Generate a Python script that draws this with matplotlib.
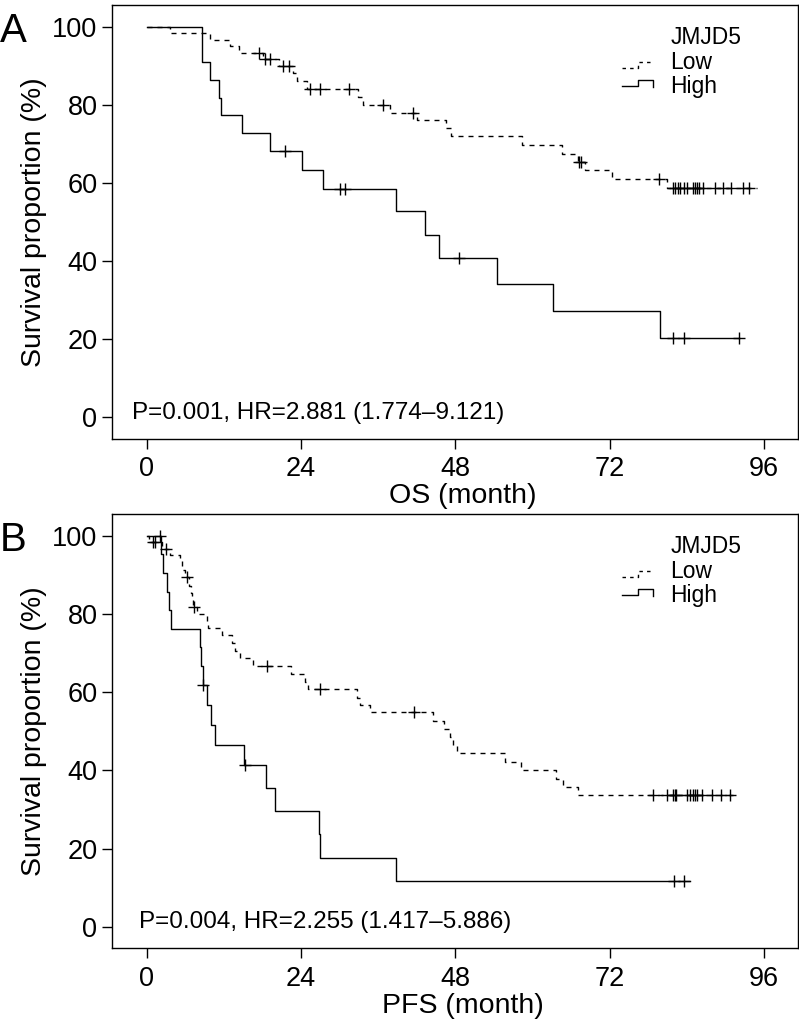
"""
Kaplan-Meier curves, JMJD5 low vs high (OS / PFS)
"""
import numpy as np
import matplotlib
matplotlib.use("Agg")
import matplotlib.pyplot as plt

plt.rcParams["font.family"] = ["Liberation Sans", "DejaVu Sans"]

# ---- OS (panel A) ----
os_low_t = [3.6, 9.9, 12.9, 14.3, 18.1, 20.5, 22.8, 23.4, 25.0, 32.9, 33.7,
            37.8, 42.0, 46.6, 47.4, 58.3, 64.6, 67.1, 68.2, 72.3, 80.9]
os_low_s = [98.3, 96.6, 94.9, 93.2, 91.6, 89.9, 88.0, 86.1, 84.1, 82.0, 80.0,
            78.0, 76.0, 74.0, 71.9, 69.7, 67.5, 65.4, 63.2, 61.0, 58.6]
os_low_cens = [17.5, 18.4, 19.2, 21.2, 22.1, 25.4, 26.9, 31.5, 36.8, 41.4,
               67.2, 67.6, 79.7, 81.8, 82.2, 82.6, 83.0, 83.5, 84.1, 85.0,
               85.3, 85.6, 85.9, 86.5, 88.4, 89.6, 90.8, 92.8, 93.7]
os_low_end = 94.9

os_high_t = [8.6, 9.9, 11.3, 11.6, 14.8, 19.1, 24.1, 27.4, 38.8, 43.3, 45.4,
             54.5, 63.2, 79.8]
os_high_s = [90.9, 86.4, 81.8, 77.3, 72.7, 68.2, 63.3, 58.4, 52.7, 46.7, 40.9,
             34.1, 27.3, 20.3]
os_high_cens = [21.5, 30.0, 30.8, 48.5, 81.9, 83.6, 92.1]
os_high_end = 92.1

# ---- PFS (panel B) ----
pfs_low_t = [0.4, 2.3, 3.6, 5.2, 5.5, 5.9, 6.6, 6.9, 7.1, 7.2, 7.8, 9.4, 9.6,
             11.7, 13.2, 13.7, 14.5, 16.6, 22.5, 24.6, 25.1, 32.7, 33.2, 34.7,
             44.6, 46.3, 47.1, 47.6, 48.2, 55.7, 58.2, 63.7, 64.7, 67.1]
pfs_low_s = [98.3, 96.6, 95.0, 93.4, 91.2, 89.3, 87.2, 85.3, 83.5, 81.7, 80.0,
             78.2, 76.3, 74.5, 72.5, 70.6, 68.6, 66.7, 64.6, 62.7, 60.8, 58.5,
             56.6, 54.8, 52.7, 50.5, 48.4, 46.4, 44.3, 42.2, 40.1, 37.9, 35.8,
             33.7]
pfs_low_cens = [1.0, 1.3, 3.0, 6.2, 7.3, 18.7, 26.95, 41.5, 78.8, 80.9, 81.9,
                82.1, 82.3, 84.0, 84.5, 84.9, 85.3, 85.6, 86.3, 87.9, 89.3,
                90.7]
pfs_low_end = 91.7

pfs_high_t = [2.2, 2.5, 3.1, 3.4, 3.8, 8.3, 8.5, 8.7, 9.4, 10.0, 10.6, 15.1,
              18.6, 20.0, 26.8, 27.0, 38.8]
pfs_high_s = [95.2, 90.5, 85.7, 81.0, 76.2, 71.4, 66.7, 61.9, 56.7, 51.6, 46.4,
              41.3, 35.4, 29.5, 23.6, 17.7, 11.8]
pfs_high_cens = [2.0, 8.8, 15.3, 82.0, 83.6]
pfs_high_end = 84.5

x_ticks = [0, 24, 48, 72, 96]
y_ticks = [0, 20, 40, 60, 80, 100]

DASH = (0, (3.6, 3.6))


def km(ax, t, s, cens, end, ls):
    tt = np.r_[0, t, end]
    ss = np.r_[100, s, s[-1]]
    ax.step(tt, ss, where="post", color="black", lw=1.0, linestyle=ls)
    idx = np.searchsorted(tt, cens, side="right") - 1
    ax.plot(cens, ss[idx], linestyle="none", marker="+", ms=8, mew=1.0,
            color="black")


def legend(ax):
    # text part
    ax.text(0.814, 0.911, "JMJD5", transform=ax.transAxes, fontsize=16.5,
            va="baseline")
    ax.text(0.814, 0.853, "Low", transform=ax.transAxes, fontsize=16.5,
            va="baseline")
    ax.text(0.814, 0.797, "High", transform=ax.transAxes, fontsize=16.5,
            va="baseline")
    # step-shaped handles
    ax.plot([0.743, 0.767, 0.767, 0.789], [0.856, 0.856, 0.869, 0.869],
            transform=ax.transAxes, color="black", lw=1.0, linestyle=(0, (2.5, 3)))
    ax.plot([0.743, 0.767, 0.767, 0.788, 0.788], [0.813, 0.813, 0.828, 0.828, 0.812],
            transform=ax.transAxes, color="black", lw=1.0)


def style(ax, xlabel, ptext, px):
    ax.set_xlim(-5.4, 101.3)
    ax.set_ylim(-5.5, 105.5)
    ax.set_xticks(x_ticks)
    ax.set_yticks(y_ticks)
    ax.tick_params(axis="both", direction="out", length=7.5, width=1.0,
                   labelsize=19.5)
    ax.tick_params(axis="x", pad=5)
    ax.tick_params(axis="y", pad=3)
    for sp in ax.spines.values():
        sp.set_linewidth(1.0)
    ax.set_xlabel(xlabel, fontsize=20.5)
    ax.xaxis.set_label_coords(0.511, -0.102)
    ax.set_ylabel("Survival proportion (%)", fontsize=20.5, labelpad=4)
    ax.text(px, 0.047, ptext, transform=ax.transAxes, fontsize=17.5,
            va="baseline")
    legend(ax)


fig = plt.figure(figsize=(7.99, 10.23), dpi=100)
axA = fig.add_axes([0.1402, 0.5709, 0.8586, 0.4242])
axB = fig.add_axes([0.1402, 0.0730, 0.8586, 0.4245])

km(axA, os_low_t, os_low_s, os_low_cens, os_low_end, DASH)
km(axA, os_high_t, os_high_s, os_high_cens, os_high_end, "-")
style(axA, "OS (month)", "P=0.001, HR=2.881 (1.774\u20139.121)", 0.029)

km(axB, pfs_low_t, pfs_low_s, pfs_low_cens, pfs_low_end, DASH)
km(axB, pfs_high_t, pfs_high_s, pfs_high_cens, pfs_high_end, "-")
style(axB, "PFS (month)", "P=0.004, HR=2.255 (1.417\u20135.886)", 0.040)

fig.text(0.0, 1 - 42 / 1023, "A", fontsize=29, va="baseline")
fig.text(0.0, 1 - 551 / 1023, "B", fontsize=29, va="baseline")

fig.savefig("out.png", dpi=100)
plt.close(fig)
